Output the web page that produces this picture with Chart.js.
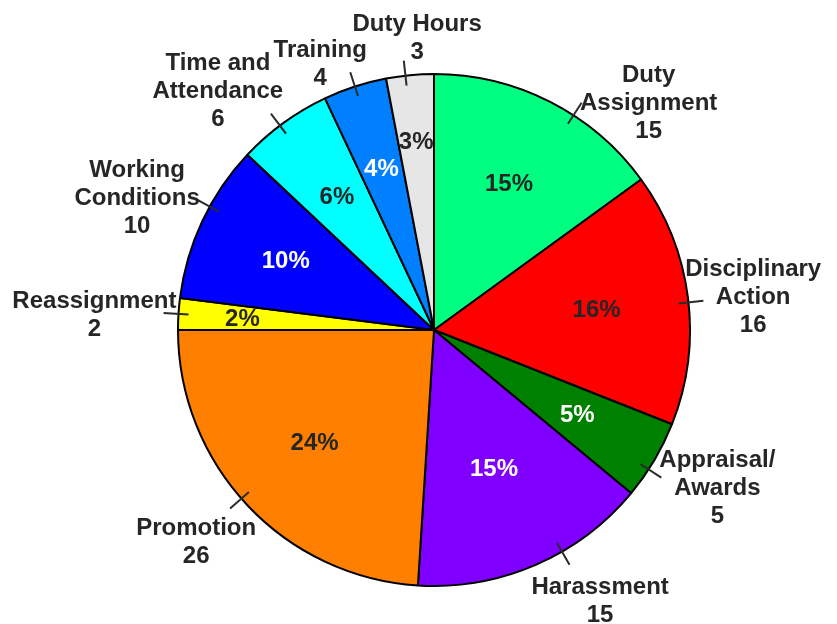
<!DOCTYPE html>
<html>
<head>
<meta charset="utf-8">
<script src="https://cdn.jsdelivr.net/npm/chart.js@4.4.1/dist/chart.umd.min.js"></script>
<style>
    html, body { margin: 0; padding: 0; background: #fff; overflow: hidden; }
    #wrap { position: relative; width: 837px; height: 624px; }
</style>
</head>
<body>
<div id="wrap"><canvas id="pie" width="837" height="624"></canvas></div>
<script>
// --- Datos ---
const categories = [
    ['Duty', 'Assignment'],
    ['Disciplinary', 'Action'],
    ['Appraisal/', 'Awards'],
    ['Harassment'],
    ['Promotion'],
    ['Reassignment'],
    ['Working', 'Conditions'],
    ['Time and', 'Attendance'],
    ['Training'],
    ['Duty Hours']
];
const shares = [15, 16, 5, 15, 24, 2, 10, 6, 4, 3];   // porcentaje de cada porción
const counts = [15, 16, 5, 15, 26, 2, 10, 6, 4, 3];   // número mostrado en la etiqueta exterior

// --- Estilo y ajustes de etiquetas ---
const sliceColors = ['#00ff80', '#ff0000', '#008000', '#8000ff', '#ff8000',
                     '#ffff00', '#0000ff', '#00ffff', '#0080ff', '#e6e6e6'];
const pctColors = ['#262626', '#262626', '#ffffff', '#ffffff', '#262626',
                   '#262626', '#ffffff', '#262626', '#ffffff', '#262626'];
const pctRadius = [0.645, 0.64, 0.65, 0.59, 0.64, 0.75, 0.64, 0.645, 0.665, 0.74];
const tickShift = [6, 1, 2.4, -6.6, 2, 0, 3.6, -1, 0, -1];          // grados
const labelShift = [16.3, 1.1, -1.6, -8.2, 1.6, -0.9, -1.2, -6, -5.1, 2.1]; // grados
const labelGap = [57, 65, 68, 61, 62, 84, 69, 67, 34, 37];          // px fuera del borde
const LINE_H = 28;

// Dibuja porcentajes, marcas y etiquetas exteriores
const sliceLabels = {
    id: 'sliceLabels',
    afterDatasetsDraw(chart) {
        const c = chart.ctx;
        const arcs = chart.getDatasetMeta(0).data;
        const deg = Math.PI / 180;
        c.save();
        c.font = 'bold 24px "Liberation Sans", Arial, sans-serif';
        c.textAlign = 'center';
        c.textBaseline = 'middle';
        arcs.forEach((arc, i) => {
            const { x, y, startAngle, endAngle, outerRadius: r } =
                arc.getProps(['x', 'y', 'startAngle', 'endAngle', 'outerRadius'], true);
            const mid = (startAngle + endAngle) / 2;

            // porcentaje dentro de la porción
            const pr = r * pctRadius[i];
            c.fillStyle = pctColors[i];
            c.fillText(shares[i] + '%', x + Math.cos(mid) * pr, y + Math.sin(mid) * pr + 1);

            // marca radial sobre el borde
            const ta = mid + tickShift[i] * deg;
            c.strokeStyle = '#2b2b2b';
            c.lineWidth = 2;
            c.beginPath();
            c.moveTo(x + Math.cos(ta) * (r - 10), y + Math.sin(ta) * (r - 10));
            c.lineTo(x + Math.cos(ta) * (r + 15), y + Math.sin(ta) * (r + 15));
            c.stroke();

            // etiqueta exterior: nombre + cantidad
            const la = mid + labelShift[i] * deg;
            const ld = r + labelGap[i];
            const lx = x + Math.cos(la) * ld;
            const ly = y + Math.sin(la) * ld + 1;
            const lines = [...categories[i], String(counts[i])];
            c.fillStyle = '#262626';
            lines.forEach((t, k) => {
                c.fillText(t, lx, ly + (k - (lines.length - 1) / 2) * LINE_H);
            });
        });
        c.restore();
    }
};

new Chart(document.getElementById('pie').getContext('2d'), {
    type: 'pie',
    data: {
        labels: categories.map(c => c.join(' ')),
        datasets: [{
            data: shares,
            backgroundColor: sliceColors,
            borderColor: '#000',
            borderWidth: 2
        }]
    },
    options: {
        responsive: false,
        animation: false,
        layout: { padding: { left: 177, right: 146, top: 73, bottom: 37 } },
        plugins: { legend: { display: false }, tooltip: { enabled: false } }
    },
    plugins: [sliceLabels]
});
</script>
</body>
</html>
